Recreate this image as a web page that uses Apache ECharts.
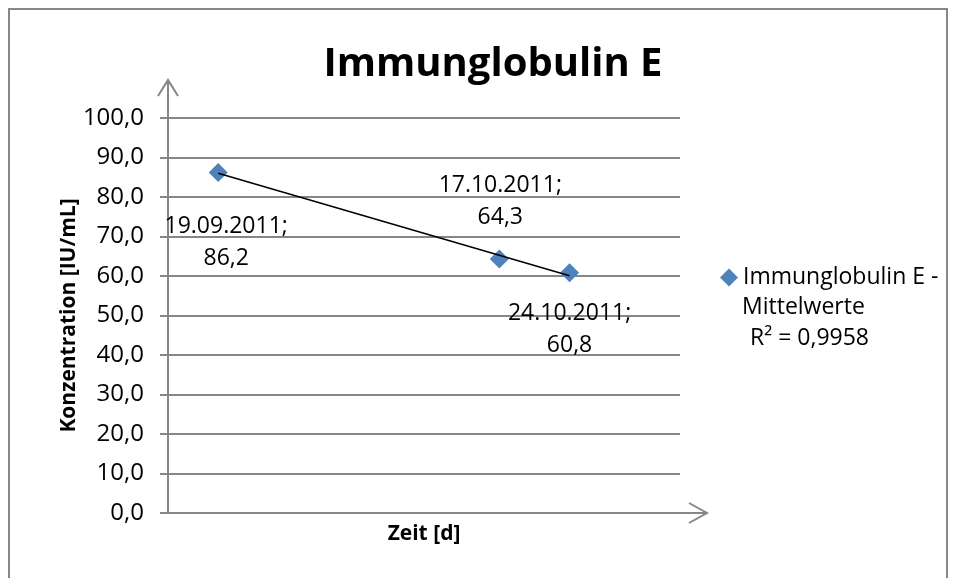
<!DOCTYPE html>
<html>
<head>
<meta charset="utf-8">
<title>Immunglobulin E</title>
<script src="https://cdn.jsdelivr.net/npm/echarts@6/dist/echarts.min.js"></script>
<style>
html, body { margin: 0; padding: 0; background: #fff; }
#main { width: 956px; height: 578px; }
</style>
</head>
<body>
<div id="main"></div>
<script>
// Messzeitpunkte und Mittelwerte
var dates = ['2011-09-19', '2011-10-17', '2011-10-24'];
var values = [86.2, 64.3, 60.8];
var seriesName = 'Immunglobulin E - Mittelwerte';
var rSquaredText = 'R² = 0,9958';
// Achsenbereich
var xRange = ['2011-09-14', '2011-11-04'];
var yMin = 0, yMax = 100, yStep = 10;

var FONT = 'Open Sans';
var GREY = '#868686';
var GRID = { left: 168, top: 118, width: 512, height: 395 };

// Datenbeschriftungen: Verschiebung relativ zum Punkt
var labelOffsets = [[8, 70], [1, -58], [0, 57]];

function fmtDate(s) {
    var p = s.split('-');
    return p[2] + '.' + p[1] + '.' + p[0];
}
function fmtNum(v, d) {
    return v.toFixed(d).replace('.', ',');
}

// lineare Trendlinie (kleinste Quadrate) über die Tage
var dayMs = 86400000;
var xs = dates.map(function (d) { return (Date.parse(d) - Date.parse(dates[0])) / dayMs; });
var n = xs.length, mx = 0, my = 0;
for (var i = 0; i < n; i++) { mx += xs[i] / n; my += values[i] / n; }
var sxx = 0, sxy = 0;
for (var i = 0; i < n; i++) { sxx += (xs[i] - mx) * (xs[i] - mx); sxy += (xs[i] - mx) * (values[i] - my); }
var slope = sxy / sxx, icpt = my - slope * mx;
var trendData = [
    [dates[0], icpt + slope * xs[0]],
    [dates[n - 1], icpt + slope * xs[n - 1]]
];

var scatterData = dates.map(function (d, i) {
    return {
        value: [d, values[i]],
        label: { offset: labelOffsets[i] }
    };
});

var gl = GRID.left, gt = GRID.top, gr = GRID.left + GRID.width, gb = GRID.top + GRID.height;

var chart = echarts.init(document.getElementById('main'));
chart.setOption({
    backgroundColor: '#fff',
    animation: false,
    textStyle: { fontFamily: FONT },
    title: {
        text: 'Immunglobulin E',
        left: 488,
        top: 36,
        textAlign: 'center',
        textStyle: { fontFamily: FONT, fontSize: 40, fontWeight: 'bold', color: '#000', lineHeight: 48 }
    },
    grid: { left: gl, top: gt, width: GRID.width, height: GRID.height, containLabel: false },
    legend: {
        left: 720,
        top: 262,
        padding: 0,
        itemWidth: 18,
        itemHeight: 18,
        data: [{ name: seriesName, icon: 'diamond' }],
        formatter: function (name) { return name.split(' - ')[0] + ' -'; },
        textStyle: { fontFamily: FONT, fontSize: 23, color: '#000', lineHeight: 31 }
    },
    xAxis: {
        type: 'time',
        min: +echarts.time.parse(xRange[0]),
        max: +echarts.time.parse(xRange[1]),
        name: 'Zeit [d]',
        nameLocation: 'middle',
        nameGap: 11,
        nameMoveOverlap: false,
        nameTextStyle: { fontFamily: FONT, fontSize: 21, fontWeight: 'bold', color: '#000', verticalAlign: 'top' },
        axisLine: { lineStyle: { color: GREY, width: 2 } },
        axisTick: { show: false },
        axisLabel: { show: false },
        splitLine: { show: false }
    },
    yAxis: {
        type: 'value',
        min: yMin,
        max: yMax,
        interval: yStep,
        name: 'Konzentration [IU/mL]',
        nameLocation: 'middle',
        nameRotate: 90,
        nameGap: 88,
        nameMoveOverlap: false,
        nameTextStyle: { fontFamily: FONT, fontSize: 21, fontWeight: 'bold', color: '#000' },
        axisLine: { show: true, lineStyle: { color: GREY, width: 2 } },
        axisTick: { show: true, length: 8, lineStyle: { color: GREY, width: 2 } },
        axisLabel: {
            margin: 24,
            fontFamily: FONT,
            fontSize: 24,
            color: '#000',
            formatter: function (v) { return fmtNum(v, 1); }
        },
        splitLine: { lineStyle: { color: GREY, width: 2 } }
    },
    series: [
        {
            name: 'Linear (' + seriesName + ')',
            type: 'line',
            data: trendData,
            symbol: 'none',
            silent: true,
            z: 3,
            lineStyle: { color: '#000', width: 1.5 }
        },
        {
            name: seriesName,
            type: 'scatter',
            data: scatterData,
            symbol: 'diamond',
            symbolSize: 19,
            z: 2,
            itemStyle: { color: '#4F81BD', opacity: 1 },
            label: {
                show: true,
                position: 'inside',
                align: 'center',
                verticalAlign: 'middle',
                fontFamily: FONT,
                fontSize: 23,
                lineHeight: 32,
                color: '#000',
                opacity: 1,
                formatter: function (p) {
                    return fmtDate(p.value[0]) + ';\n' + fmtNum(p.value[1], 1);
                }
            }
        }
    ],
    graphic: [
        // Rahmen
        {
            type: 'polyline',
            shape: { points: [[9, 578], [9, 9], [947, 9], [947, 578]] },
            style: { fill: null, stroke: GREY, lineWidth: 2 },
            silent: true
        },
        // Pfeil y-Achse
        {
            type: 'polyline',
            shape: { points: [[gl, gt], [gl, gt - 38]] },
            style: { fill: null, stroke: GREY, lineWidth: 2 },
            silent: true
        },
        {
            type: 'polyline',
            shape: { points: [[gl - 10, gt - 22], [gl, gt - 38], [gl + 10, gt - 22]] },
            style: { fill: null, stroke: GREY, lineWidth: 2 },
            silent: true
        },
        // Pfeil x-Achse
        {
            type: 'polyline',
            shape: { points: [[gr, gb], [gr + 27, gb]] },
            style: { fill: null, stroke: GREY, lineWidth: 2 },
            silent: true
        },
        {
            type: 'polyline',
            shape: { points: [[gr + 9, gb - 10], [gr + 27, gb], [gr + 9, gb + 10]] },
            style: { fill: null, stroke: GREY, lineWidth: 2 },
            silent: true
        },
        // zweite Legendenzeile und Bestimmtheitsmaß
        {
            type: 'text',
            left: 742,
            top: 296,
            style: { text: 'Mittelwerte', font: '23px "Open Sans"', fill: '#000' },
            silent: true
        },
        {
            type: 'text',
            left: 750,
            top: 327,
            style: { text: rSquaredText, font: '23px "Open Sans"', fill: '#000' },
            silent: true
        }
    ]
});
</script>
</body>
</html>
